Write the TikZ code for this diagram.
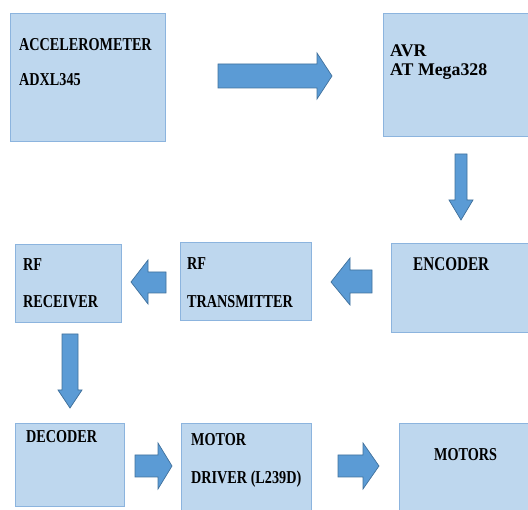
\documentclass[tikz,border=0pt]{standalone}
\usepackage{graphicx}
\usepackage{fontspec}
\setmainfont{Liberation Serif}
\definecolor{boxfill}{RGB}{190,215,238}
\definecolor{boxline}{RGB}{140,180,222}
\definecolor{arrfill}{RGB}{91,155,213}
\definecolor{arrline}{RGB}{65,113,156}
\newcommand\tallt[1]{\scalebox{1}[1.28]{#1}}
\tikzset{
  blk/.style={draw=boxline, fill=boxfill, line width=0.9pt},
  lbl/.style={anchor=base west, inner sep=0pt, font=\fontsize{14.2}{16}\selectfont\bfseries},
  biglbl/.style={anchor=base west, inner sep=0pt, font=\fontsize{17.8}{20}\selectfont\bfseries},
  barrow/.style={draw=arrline, fill=arrfill, line width=0.7pt, line join=miter}
}
\begin{document}
\begin{tikzpicture}[x=1pt,y=-1pt]
\useasboundingbox (0,0) rectangle (528,510);
\begin{scope}
\clip (0,0) rectangle (528,510);
% boxes
\draw[blk] (10,13) rectangle (165,141);
\draw[blk] (383,13) rectangle (535,136);
\draw[blk] (15,244) rectangle (121,322);
\draw[blk] (180,242) rectangle (311,320);
\draw[blk] (391,243) rectangle (535,332);
\draw[blk] (15,423) rectangle (124,506);
\draw[blk] (181,423) rectangle (311,515);
\draw[blk] (399,423) rectangle (535,515);
% block arrows
% right: accelerometer -> AVR
\draw[barrow] (218,64) -- (317,64) -- (317,53) -- (332,76) -- (317,99) -- (317,88) -- (218,88) -- cycle;
% down: AVR -> encoder
\draw[barrow] (455,154) -- (467,154) -- (467,200) -- (473,200) -- (461,220) -- (449,200) -- (455,200) -- cycle;
% left: encoder -> transmitter
\draw[barrow] (372,270) -- (350,270) -- (350,258) -- (331,282) -- (350,305) -- (350,293) -- (372,293) -- cycle;
% left: transmitter -> receiver
\draw[barrow] (166,272) -- (148,272) -- (148,260) -- (131,282) -- (148,304) -- (148,293) -- (166,293) -- cycle;
% down: receiver -> decoder
\draw[barrow] (62,334) -- (78,334) -- (78,390) -- (82,390) -- (70,408) -- (58,390) -- (62,390) -- cycle;
% right: decoder -> motor driver
\draw[barrow] (135,455) -- (158,455) -- (158,443) -- (172,466) -- (158,489) -- (158,477) -- (135,477) -- cycle;
% right: motor driver -> motors
\draw[barrow] (338,455) -- (363,455) -- (363,443) -- (379,466) -- (363,489) -- (363,477) -- (338,477) -- cycle;
\end{scope}
% labels
\node[lbl] (acc1) at (19,50.5) {\tallt{ACCELEROMETER}};
\node[lbl] (acc2) at (19,86) {\tallt{ADXL345}};
\node[biglbl] (avr1) at (390,57) {AVR};
\node[biglbl] (avr2) at (390,76) {AT Mega328};
\node[lbl] (rx1) at (23,271) {\tallt{RF}};
\node[lbl] (rx2) at (23,308) {\tallt{RECEIVER}};
\node[lbl] (tx1) at (187,270) {\tallt{RF}};
\node[lbl] (tx2) at (187,308) {\tallt{TRANSMITTER}};
\node[lbl, font=\fontsize{15.2}{17}\selectfont\bfseries] (enc) at (413,271) {\tallt{ENCODER}};
\node[lbl] (dec) at (26,443) {\tallt{DECODER}};
\node[lbl] (md1) at (191,446) {\tallt{MOTOR}};
\node[lbl] (md2) at (191,484) {\tallt{DRIVER (L239D)}};
\node[lbl] (mot) at (434,461) {\tallt{MOTORS}};
\end{tikzpicture}
\end{document}
